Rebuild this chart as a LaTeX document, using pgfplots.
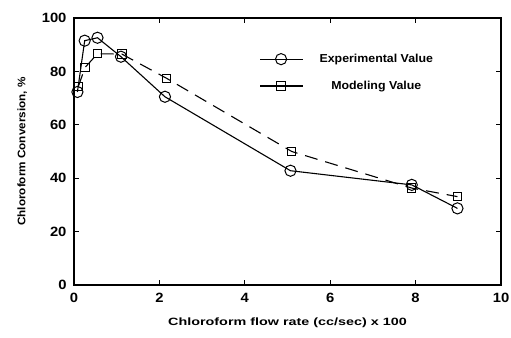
\documentclass[border=0pt]{standalone}
\usepackage{fontspec}
\setmainfont{Liberation Sans}
\newfontfamily\xlabfont{Liberation Sans}[FakeStretch=1.36]
\newfontfamily\stdfont{Liberation Sans}[FakeStretch=1.07]
\newfontfamily\tickfont{Liberation Sans}[FakeStretch=1.1]
\usepackage{pgfplots}
\pgfplotsset{compat=1.18}
\begin{document}
\begin{tikzpicture}
\begin{axis}[
  scale only axis,
  width=427bp, height=267bp,
  xmin=0, xmax=10, ymin=0, ymax=100,
  xtick={0,2,...,10}, ytick={0,20,...,100},
  tick align=inside,
  major tick length=5bp,
  minor tick num=0,
  axis line style={line width=1.2bp},
  tick style={line width=1bp, black},
  /pgf/number format/assume math mode=true,
  tick label style={font=\tickfont\fontsize{13.5}{16}\selectfont\bfseries},
  xticklabel style={yshift=-5bp},
  yticklabel style={xshift=-4bp},
  xlabel={\xlabfont\fontsize{10.6}{12}\selectfont\bfseries Chloroform flow rate (cc/sec) x 100},
  ylabel={\stdfont\fontsize{11}{13}\selectfont\bfseries Chloroform Conversion, \%},
  xlabel style={yshift=-8bp},
  ylabel style={yshift=8bp},
  legend style={draw=none, fill=none, at={(rel axis cs:0.427,0.88)}, anchor=north west,
    font=\stdfont\fontsize{11.6}{13}\selectfont\bfseries, row sep=13bp, column sep=14bp},
  legend cell align=center,
  legend image code/.code={
    \draw[#1, solid, mark repeat=2, mark phase=2] plot coordinates {(0bp,0bp) (21bp,0bp) (43bp,0bp)};
  },
]
\addplot[black, line width=1.1bp, mark=o, mark size=5.6bp, mark options={solid, fill=white, line width=1bp}]
  coordinates {(0.08,72.3) (0.25,91.5) (0.55,92.6) (1.1,85.5) (2.13,70.5) (5.07,42.8) (7.91,37.5) (8.98,28.7)};
\addlegendentry{Experimental Value}
\addplot[black, line width=1.1bp, dash pattern=on 13bp off 8bp, mark=square, mark size=4.2bp, mark options={solid, fill=white, line width=1bp}]
  coordinates {(0.1,74.3) (0.26,81.5) (0.55,86.6) (1.12,86.5) (2.17,77.4) (5.1,50.0) (7.91,36.3) (8.98,33.1)};
\addlegendentry{Modeling Value}
\end{axis}
\pgfresetboundingbox
\useasboundingbox (current axis.south west) ++(-74bp,-53bp) rectangle ++(511bp,338bp);
\end{tikzpicture}
\end{document}
